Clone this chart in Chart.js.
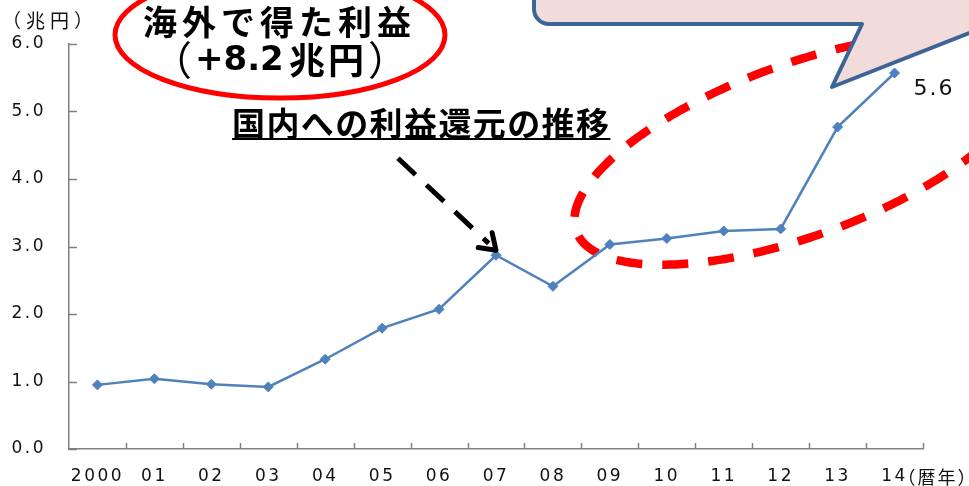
<!DOCTYPE html>
<html>
<head>
<meta charset="utf-8">
<script src="https://cdn.jsdelivr.net/npm/chart.js@4/dist/chart.umd.min.js"></script>
<style>
  html, body { margin: 0; padding: 0; background: #fff; }
  #wrap { width: 969px; height: 486px; }
</style>
</head>
<body>
<div id="wrap"><canvas id="profitChart" width="969" height="486"></canvas></div>
<script>
  // calendar years on the x axis
  const years = ['2000', '01', '02', '03', '04', '05', '06', '07', '08', '09', '10', '11', '12', '13', '14'];
  // profits returned to Japan, trillion yen
  const profitReturn = [0.95, 1.04, 0.96, 0.92, 1.33, 1.79, 2.07, 2.87, 2.41, 3.03, 3.12, 3.23, 3.26, 4.77, 5.57];
  const yTicks = [0, 1, 2, 3, 4, 5, 6];

  const LINE_BLUE = '#4F81BD';
  const AXIS_GREY = '#808080';
  const JP = '"Noto Sans CJK JP", "Noto Sans", sans-serif';

  // draw characters one by one with extra spacing between them
  function spacedText(ctx, text, x, y, spacing) {
    for (const ch of text) {
      ctx.fillText(ch, x, y);
      x += ctx.measureText(ch).width + spacing;
    }
    return x;
  }

  // tilted ellipse traced as a polyline so the dash pattern stays even
  function ellipsePath(ctx, cx, cy, a, b, rot) {
    const cr = Math.cos(rot), sr = Math.sin(rot);
    ctx.beginPath();
    for (let k = 0; k <= 360; k++) {
      const t = k * Math.PI / 180;
      const ex = a * Math.cos(t), ey = b * Math.sin(t);
      const px = cx + ex * cr - ey * sr;
      const py = cy + ex * sr + ey * cr;
      if (k === 0) ctx.moveTo(px, py); else ctx.lineTo(px, py);
    }
  }

  const annotate = {
    id: 'annotate',
    beforeLayout(chart) {
      chart.ctx.letterSpacing = '2.5px';
    },
    beforeDraw(chart) {
      chart.ctx.letterSpacing = '2.5px';
    },
    beforeDatasetsDraw(chart) {
      const ctx = chart.ctx;
      ctx.save();
      ctx.letterSpacing = '0px';
      // red dashed ring around 2009-2014
      ctx.strokeStyle = '#FF0000';
      ctx.lineWidth = 8.5;
      ctx.lineCap = 'butt';
      ctx.setLineDash([26, 20]);
      ctx.lineDashOffset = 0;
      ellipsePath(ctx, 800, 150, 238, 86, -20 * Math.PI / 180);
      ctx.stroke();
      ctx.restore();
    },
    afterDraw(chart) {
      const ctx = chart.ctx;
      const xs = chart.scales.x;
      const ys = chart.scales.y;
      const area = chart.chartArea;
      const pts = chart.getDatasetMeta(0).data;
      ctx.save();
      ctx.letterSpacing = '0px';

      // inward tick marks
      ctx.strokeStyle = AXIS_GREY;
      ctx.lineWidth = 1.5;
      ctx.beginPath();
      yTicks.forEach(v => {
        const y = Math.round(ys.getPixelForValue(v)) + 0.5;
        ctx.moveTo(area.left, y);
        ctx.lineTo(area.left + 8, y);
      });
      years.forEach((_, i) => {
        const x = Math.round(xs.getPixelForValue(i + 0.5)) + 0.5;
        ctx.moveTo(x, area.bottom);
        ctx.lineTo(x, area.bottom - 6);
      });
      ctx.stroke();

      // unit labels
      ctx.fillStyle = '#111';
      ctx.textBaseline = 'middle';
      ctx.textAlign = 'left';
      ctx.font = '19px ' + JP;
      spacedText(ctx, '（兆円）', 2, 21, 5);
      ctx.font = '18px ' + JP;
      spacedText(ctx, '（暦年）', xs.getPixelForValue(years.length - 1) + 3, 477, 2);

      // value label on the last point
      const last = pts[pts.length - 1];
      ctx.font = '22px "DejaVu Sans"';
      ctx.letterSpacing = '2px';
      ctx.fillText(profitReturn[profitReturn.length - 1].toFixed(1), last.x + 19, last.y + 16);
      ctx.letterSpacing = '0px';

      // speech bubble in the top right corner
      ctx.fillStyle = '#F2DCDB';
      ctx.strokeStyle = '#3D6496';
      ctx.lineWidth = 4;
      ctx.lineJoin = 'round';
      ctx.beginPath();
      ctx.moveTo(534, -10);
      ctx.lineTo(534, 9);
      ctx.arcTo(534, 24, 549, 24, 15);
      ctx.lineTo(862, 24);
      ctx.lineTo(832, 87);
      ctx.lineTo(1000, 21);
      ctx.lineTo(1000, -10);
      ctx.closePath();
      ctx.fill();
      ctx.stroke();

      // red ring with the overseas profit note
      ctx.strokeStyle = '#FF0000';
      ctx.lineWidth = 5;
      ctx.beginPath();
      ctx.ellipse(280, 35, 165, 63, 0, 0, Math.PI * 2);
      ctx.stroke();

      ctx.fillStyle = '#000';
      ctx.font = 'bold 34px ' + JP;
      spacedText(ctx, '海外で得た利益', 143, 22, 5);
      ctx.font = '40px ' + JP;
      ctx.fillText('（', 152, 60);
      ctx.font = 'bold 34px "DejaVu Sans"';
      ctx.fillText('+8.2', 195, 61);
      ctx.font = 'bold 36px ' + JP;
      spacedText(ctx, '兆円', 289, 60, 3);
      ctx.font = '40px ' + JP;
      ctx.fillText('）', 368, 60);

      // underlined caption
      ctx.font = 'bold 33px ' + JP;
      const end = spacedText(ctx, '国内への利益還元の推移', 232, 123, 1.4);
      ctx.fillRect(232, 138, end - 232, 2);

      // dashed arrow pointing at 2007
      const tipX = pts[7].x;
      const tipY = pts[7].y - 5;
      const sx = tipX - 98;
      const sy = tipY - 92;
      const ang = Math.atan2(tipY - sy, tipX - sx);
      ctx.strokeStyle = '#000';
      ctx.lineWidth = 5;
      ctx.setLineDash([24, 15]);
      ctx.beginPath();
      ctx.moveTo(sx, sy);
      ctx.lineTo(tipX - 10 * Math.cos(ang), tipY - 10 * Math.sin(ang));
      ctx.stroke();
      ctx.setLineDash([]);
      ctx.lineCap = 'round';
      ctx.beginPath();
      ctx.moveTo(tipX - 18 * Math.cos(ang - 0.6), tipY - 18 * Math.sin(ang - 0.6));
      ctx.lineTo(tipX, tipY);
      ctx.lineTo(tipX - 18 * Math.cos(ang + 0.6), tipY - 18 * Math.sin(ang + 0.6));
      ctx.stroke();

      ctx.restore();
    }
  };

  new Chart(document.getElementById('profitChart'), {
    type: 'line',
    data: {
      labels: years,
      datasets: [{
        data: profitReturn,
        borderColor: LINE_BLUE,
        backgroundColor: LINE_BLUE,
        borderWidth: 2.5,
        pointStyle: 'rectRot',
        pointRadius: 5,
        pointBorderWidth: 1,
        pointBackgroundColor: LINE_BLUE,
        pointBorderColor: LINE_BLUE,
        tension: 0,
        fill: false
      }]
    },
    options: {
      responsive: false,
      animation: false,
      devicePixelRatio: 1,
      layout: { padding: { top: 44, right: 46, left: 0, bottom: 0 } },
      plugins: {
        legend: { display: false },
        tooltip: { enabled: false }
      },
      scales: {
        x: {
          offset: true,
          grid: { display: false, drawTicks: false },
          border: { display: true, color: AXIS_GREY, width: 1.5 },
          ticks: {
            color: '#111',
            font: { family: 'DejaVu Sans', size: 17 },
            padding: 17,
            maxRotation: 0,
            autoSkip: false
          },
          afterFit: axis => { axis.height = 37; }
        },
        y: {
          min: 0,
          max: 6,
          grid: { display: false, drawTicks: false },
          border: { display: true, color: AXIS_GREY, width: 1.5 },
          afterBuildTicks: axis => { axis.ticks = yTicks.map(v => ({ value: v })); },
          ticks: {
            color: '#111',
            font: { family: 'DejaVu Sans', size: 17 },
            padding: 23,
            callback: v => v.toFixed(1)
          },
          afterFit: axis => { axis.width = 69; }
        }
      }
    },
    plugins: [annotate]
  });
</script>
</body>
</html>
